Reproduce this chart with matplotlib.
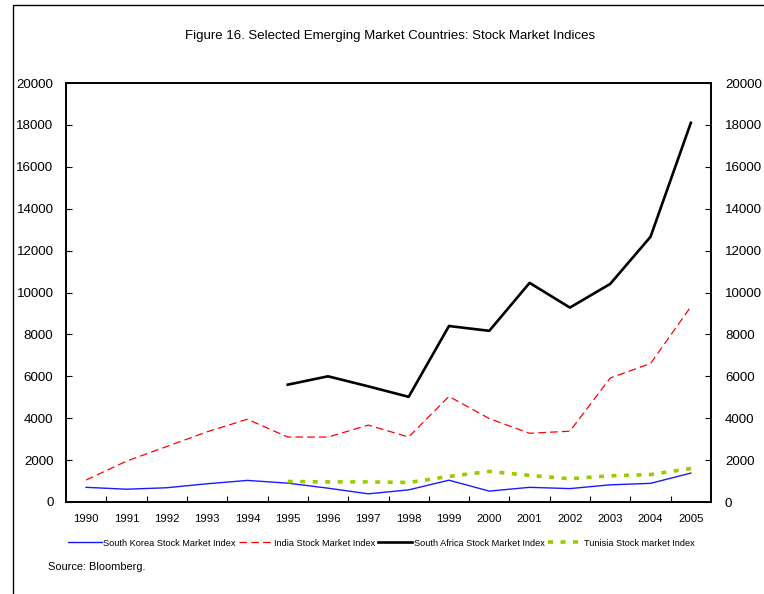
import matplotlib
matplotlib.use("Agg")
import matplotlib.pyplot as plt
from matplotlib.patches import Rectangle

# datos
years = [str(y) for y in range(1990, 2006)]
korea = [700, 610, 680, 870, 1030, 900, 660, 390, 580, 1040, 520, 700, 640, 820, 890, 1380]
india = [1050, 1950, 2650, 3350, 3950, 3100, 3100, 3670, 3100, 5040, 3980, 3280, 3380, 5920, 6610, 9320]
safrica_years = years[5:]
safrica = [5600, 6000, 5520, 5020, 8400, 8170, 10460, 9280, 10410, 12660, 18100]
tunisia_years = years[5:]
tunisia = [980, 960, 960, 930, 1220, 1460, 1270, 1110, 1250, 1310, 1600]

plt.rcParams["font.family"] = ["Liberation Sans", "DejaVu Sans"]
plt.rcParams["lines.scale_dashes"] = False

fig = plt.figure(figsize=(7.64, 5.94), dpi=100)
ax = fig.add_axes([66 / 764, 1 - 502 / 594, (711 - 66) / 764, (502 - 83) / 594])

xk = list(range(len(years)))
xs = [years.index(y) for y in safrica_years]
xt = [years.index(y) for y in tunisia_years]

ax.plot(xk, korea, color="#1a1aff", lw=1.0, label="South Korea Stock Market Index")
ax.plot(xk, india, color="#ff0000", lw=0.9, linestyle=(0, (5.5, 3)), label="India Stock Market Index")
ax.plot(xs, safrica, color="black", lw=1.9, label="South Africa Stock Market Index")
ax.plot(xt, tunisia, color="#99cc00", lw=2.6, linestyle=(0, (3.6, 5.4)), label="Tunisia Stock market Index")

ax.set_xlim(-0.5, len(years) - 0.5)
ax.set_ylim(0, 20000)
ax.set_yticks(range(0, 20001, 2000))
ax.set_xticks(xk)
ax.set_xticklabels(years, fontsize=8.2)
ax.set_xticks([i + 0.5 for i in xk[:-1]], minor=True)
ax.tick_params(axis="x", which="major", length=0, pad=9)
ax.tick_params(axis="x", which="minor", direction="in", length=4, width=0.8)
ax.tick_params(axis="y", direction="in", length=4, width=0.8, labelsize=9.6, pad=9)
for s in ax.spines.values():
    s.set_linewidth(1.2)

ax2 = ax.twinx()
ax2.set_ylim(0, 20000)
ax2.set_yticks(range(0, 20001, 2000))
ax2.tick_params(axis="y", direction="in", length=4, width=0.8, labelsize=9.6, pad=10)
for s in ax2.spines.values():
    s.set_linewidth(1.2)

leg = fig.legend(loc="center", bbox_to_anchor=(381 / 764, 1 - 543 / 594), ncol=4, frameon=False,
                 fontsize=6.6, handlelength=3.7, handletextpad=0.2, columnspacing=0.3, borderpad=0)

fig.text(390 / 764, 1 - 36 / 594, "Figure 16. Selected Emerging Market Countries: Stock Market Indices",
         ha="center", va="center", fontsize=9.5)
fig.text(48 / 764, 1 - 567 / 594, "Source: Bloomberg.", ha="left", va="center", fontsize=7.9)

# marco de la figura
fig.patches.append(Rectangle((12.5 / 764, -0.05), 1.1, 1.05 - 5 / 594, transform=fig.transFigure,
                             fill=False, edgecolor="black", linewidth=1.0))

fig.savefig("out.png", dpi=100)
